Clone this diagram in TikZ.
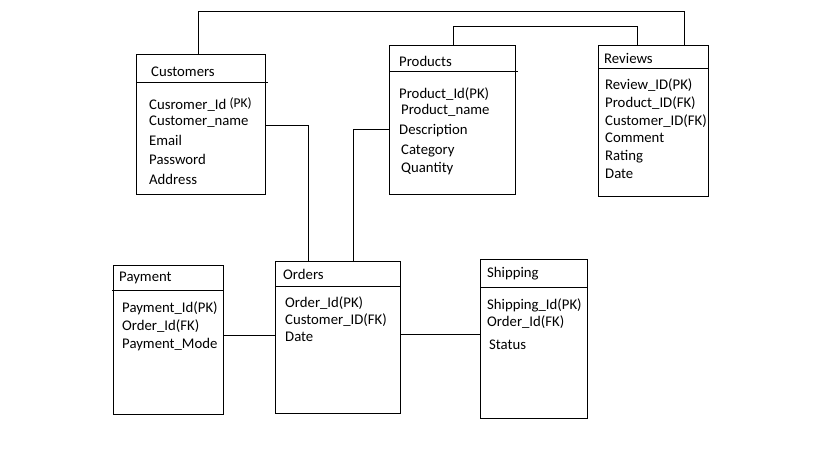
\documentclass[tikz,border=0pt]{standalone}
\usepackage{fontspec}
\setmainfont{Carlito}
\usetikzlibrary{positioning}
\tikzset{
  tbl/.style={draw, anchor=north west, inner sep=0pt},
  ttl/.style={anchor=west, inner sep=0pt},
  attr/.style={anchor=north west, inner sep=0pt, align=left},
}
\begin{document}
\begin{tikzpicture}[x=1bp,y=-1bp,font=\fontsize{14.8}{18}\selectfont]
\useasboundingbox (0,0) rectangle (819,460);

% tables
\node[tbl, minimum width=129bp, minimum height=140bp] (cust) at (136,54) {};
\node[tbl, minimum width=126bp, minimum height=149bp] (prod) at (389,45) {};
\node[tbl, minimum width=110bp, minimum height=151bp] (rev)  at (598,45) {};
\node[tbl, minimum width=110bp, minimum height=149bp] (pay)  at (113,265) {};
\node[tbl, minimum width=125bp, minimum height=152bp] (ord)  at (275,261) {};
\node[tbl, minimum width=107bp, minimum height=159bp] (ship) at (480,259) {};

% header lines
\draw (136,82) -- (268,82);
\draw (389,71) -- (518,71);
\draw (598,68) -- (708,68);
\draw (112,290) -- (223,290);
\draw (275,286) -- (400,286);
\draw (480,287) -- (587,287);

% titles
\node[ttl] (custT) at (151,72) {Customers};
\node[ttl] (prodT) at (399,61) {Products};
\node[ttl] (revT)  at (604,58) {Reviews};
\node[ttl] (payT)  at (119,278) {Payment};
\node[ttl] (ordT)  at (283,274) {Orders};
\node[ttl] (shipT) at (487,274) {Shipping};

% attributes
\node[attr] (custA) at (149,97) {Cusromer\_Id \raisebox{2bp}{\fontsize{13.5}{13}\selectfont(PK)}\\[-1bp]
  Customer\_name\\[2bp] Email\\[1bp] Password\\[2bp] Address};
\node[attr] (prodA) at (399,88) {Product\_Id(PK)\\[-2bp]
  \hspace{2bp}Product\_name\\[2bp] Description\\[2bp] \hspace{2bp}Category\\ \hspace{2bp}Quantity};
\node[attr] (revA)  at (605,79) {Review\_ID(PK)\\ Product\_ID(FK)\\ Customer\_ID(FK)\\[-1bp]
  Comment\\ Rating\\ Date};
\node[attr] (payA)  at (122,302) {Payment\_Id(PK)\\ Order\_Id(FK)\\ Payment\_Mode};
\node[attr] (ordA)  at (285,297) {Order\_Id(PK)\\[-1bp] Customer\_ID(FK)\\[-1bp] Date};
\node[attr] (shipA) at (487,299) {Shipping\_Id(PK)\\[-1bp] Order\_Id(FK)\\[5bp] \hspace{2bp}Status};

% connectors
\coordinate (tc) at (198,11);
\coordinate (tr) at (684,11);
\draw (cust.north -| tc) -- (tc) -- (tr) -- (rev.north -| tr);
\coordinate (tp) at (453,26);
\coordinate (tq) at (637,26);
\draw (prod.north -| tp) -- (tp) -- (tq) -- (rev.north -| tq);
\coordinate (co) at (308,125);
\draw (cust.east |- co) -- (co) -- (ord.north -| co);
\coordinate (po) at (353,129);
\draw (prod.west |- po) -- (po) -- (ord.north -| po);
\coordinate (pm) at (250,335);
\draw (pay.east |- pm) -- (ord.west |- pm);
\coordinate (os) at (440,334);
\draw (ord.east |- os) -- (ship.west |- os);
\end{tikzpicture}
\end{document}
